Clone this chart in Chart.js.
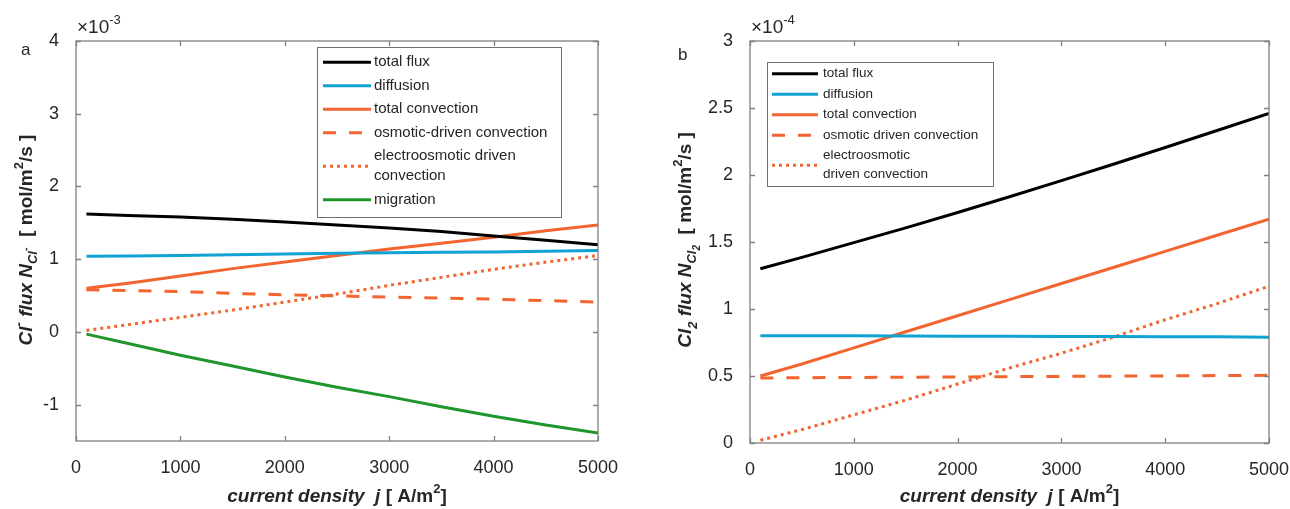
<!DOCTYPE html>
<html>
<head>
<meta charset="utf-8">
<script src="https://cdn.jsdelivr.net/npm/chart.js@4.4.1/dist/chart.umd.min.js"></script>
<style>
  html, body { margin: 0; padding: 0; background: #fff; }
  #wrap { position: relative; width: 1290px; height: 509px; overflow: hidden; }
  canvas { position: absolute; top: 0; }
  #chartA { left: 0; }
  #chartB { left: 640px; }
</style>
</head>
<body>
<div id="wrap">
  <canvas id="chartA" width="640" height="509"></canvas>
  <canvas id="chartB" width="650" height="509"></canvas>
</div>
<script>
// densidad de corriente j [A/m2]
const corriente = [100, 500, 1000, 1500, 2000, 2500, 3000, 3500, 4000, 4500, 5000];

// panel a: flujo de Cl- (x 1e-3 mol/m2/s)
const totalA     = [1.62, 1.60, 1.58, 1.55, 1.51, 1.47, 1.43, 1.38, 1.32, 1.26, 1.20];
const difusionA  = [1.04, 1.045, 1.05, 1.06, 1.07, 1.08, 1.09, 1.095, 1.10, 1.11, 1.12];
const convA      = [0.60, 0.67, 0.77, 0.87, 0.96, 1.05, 1.14, 1.22, 1.30, 1.39, 1.47];
const osmoticaA  = [0.58, 0.57, 0.555, 0.53, 0.51, 0.495, 0.48, 0.465, 0.45, 0.43, 0.41];
const electroA   = [0.02, 0.10, 0.20, 0.30, 0.41, 0.52, 0.64, 0.75, 0.86, 0.96, 1.05];
const migracionA = [-0.03, -0.16, -0.32, -0.47, -0.62, -0.76, -0.89, -1.03, -1.16, -1.28, -1.39];

// panel b: flujo de Cl2 (x 1e-4 mol/m2/s)
const totalB     = [1.30, 1.385, 1.495, 1.605, 1.72, 1.838, 1.958, 2.08, 2.205, 2.332, 2.46];
const difusionB  = [0.80, 0.80, 0.80, 0.798, 0.797, 0.796, 0.795, 0.794, 0.793, 0.792, 0.79];
const convB      = [0.50, 0.59, 0.71, 0.83, 0.95, 1.07, 1.19, 1.31, 1.43, 1.55, 1.67];
const osmoticaB  = [0.485, 0.487, 0.489, 0.491, 0.493, 0.495, 0.497, 0.499, 0.501, 0.503, 0.505];
const electroB   = [0.02, 0.10, 0.21, 0.32, 0.44, 0.56, 0.67, 0.79, 0.92, 1.04, 1.17];

const ticksX  = [0, 1000, 2000, 3000, 4000, 5000];
const ticksYA = [-1, 0, 1, 2, 3, 4];
const ticksYB = [0, 0.5, 1, 1.5, 2, 2.5, 3];

const etiquetasA = [["total flux"], ["diffusion"], ["total convection"], ["osmotic-driven convection"],
  ["electroosmotic driven", "convection"], ["migration"]];
const etiquetasB = [["total flux"], ["diffusion"], ["total convection"], ["osmotic driven convection"],
  ["electroosmotic", "driven convection"]];

const NEGRO = "#000000", AZUL = "#10a2d2", NARANJA = "#f26430", VERDE = "#1f962b";
const FAM = '"Liberation Sans", Arial, Helvetica, sans-serif';
const TXT = "#262626";
const EJE = "#808080";

function serie(label, vals, color, dash) {
  return {
    label,
    data: corriente.map((x, i) => ({ x, y: vals[i] })),
    borderColor: color,
    backgroundColor: color,
    borderWidth: 3,
    borderDash: dash || [],
    borderCapStyle: "butt",
    pointRadius: 0,
    tension: 0,
    fill: false
  };
}

function drawRich(ctx, segs, cx, cy, rot) {
  ctx.save();
  ctx.translate(cx, cy);
  if (rot) ctx.rotate(-Math.PI / 2);
  let w = 0;
  segs.forEach(s => { ctx.font = s.f; s.w = ctx.measureText(s.t).width; w += s.w; });
  let x = -w / 2;
  ctx.textBaseline = "middle";
  ctx.textAlign = "left";
  ctx.fillStyle = TXT;
  segs.forEach(s => { ctx.font = s.f; ctx.fillText(s.t, x, s.dy || 0); x += s.w; });
  ctx.restore();
}

const bi = n => `italic bold ${n}px ${FAM}`;
const b = n => `bold ${n}px ${FAM}`;
const nf = n => `${n}px ${FAM}`;

// caja, marcas internas, leyenda y textos
const decoPlugin = {
  id: "deco",
  afterDraw(chart, args, o) {
    const ctx = chart.ctx;
    const { left, right, top, bottom } = chart.chartArea;
    const xs = chart.scales.x, ys = chart.scales.y;

    ctx.save();
    ctx.strokeStyle = EJE;
    ctx.lineWidth = 1.3;
    ctx.strokeRect(left, top, right - left, bottom - top);
    ctx.beginPath();
    ticksX.forEach(v => {
      const px = Math.round(xs.getPixelForValue(v)) + 0.5;
      ctx.moveTo(px, bottom); ctx.lineTo(px, bottom - 5);
      ctx.moveTo(px, top); ctx.lineTo(px, top + 5);
    });
    o.yTicks.forEach(v => {
      const py = Math.round(ys.getPixelForValue(v)) + 0.5;
      ctx.moveTo(left, py); ctx.lineTo(left + 5, py);
      ctx.moveTo(right, py); ctx.lineTo(right - 5, py);
    });
    ctx.stroke();

    // leyenda
    const L = o.legend;
    ctx.fillStyle = "#fff";
    ctx.fillRect(L.x, L.y, L.w, L.h);
    ctx.strokeStyle = "#6e6e6e";
    ctx.lineWidth = 1;
    ctx.strokeRect(L.x + 0.5, L.y + 0.5, L.w, L.h);
    let y = L.y + L.pad;
    o.labels.forEach((lines, i) => {
      const ds = chart.data.datasets[i];
      const h = lines.length * L.lh + L.gap;
      const cy = y + h / 2;
      ctx.beginPath();
      ctx.strokeStyle = ds.borderColor;
      ctx.lineWidth = 3;
      ctx.setLineDash(ds.borderDash);
      ctx.moveTo(L.x + L.s0, cy);
      ctx.lineTo(L.x + L.s1, cy);
      ctx.stroke();
      ctx.setLineDash([]);
      ctx.fillStyle = TXT;
      ctx.font = nf(L.fs);
      ctx.textBaseline = "middle";
      ctx.textAlign = "left";
      lines.forEach((t, k) => {
        ctx.fillText(t, L.x + L.tx, cy + (k - (lines.length - 1) / 2) * L.lh);
      });
      y += h;
    });

    // exponente
    ctx.fillStyle = TXT;
    ctx.textBaseline = "middle";
    ctx.textAlign = "left";
    ctx.font = nf(19);
    ctx.fillText("×10", left + 1, 28);
    const wx = ctx.measureText("×10").width;
    ctx.font = nf(13);
    ctx.fillText(o.exp, left + 1 + wx, 20);
    // letra del panel
    ctx.font = nf(17);
    ctx.fillText(o.panel[0], o.panel[1], o.panel[2]);
    ctx.restore();

    // titulos de ejes
    drawRich(ctx, [
      { t: "current density  j", f: bi(19) },
      { t: " [ A/m", f: b(19) },
      { t: "2", f: b(13), dy: -8 },
      { t: "]", f: b(19) }
    ], (left + right) / 2, 497, false);
    drawRich(ctx, o.yTitle, o.yTitleX, 240, true);
  }
};

function crearGrafico(id, datasets, cfg) {
  const ctx = document.getElementById(id).getContext("2d");
  return new Chart(ctx, {
    type: "line",
    data: { datasets },
    plugins: [decoPlugin],
    options: {
      responsive: false,
      animation: false,
      devicePixelRatio: 1,
      layout: { padding: cfg.padding },
      scales: {
        x: {
          type: "linear", min: 0, max: 5000,
          grid: { display: false }, border: { display: false },
          afterBuildTicks: s => { s.ticks = ticksX.map(v => ({ value: v })); },
          afterFit: s => { s.height = 40; s.paddingLeft = 0; s.paddingRight = 0; },
          ticks: { color: TXT, font: { family: FAM, size: 18 }, padding: 8, maxRotation: 0, callback: v => String(v) }
        },
        y: {
          type: "linear", min: cfg.yMin, max: cfg.yMax,
          grid: { display: false }, border: { display: false },
          afterBuildTicks: s => { s.ticks = cfg.yTicks.map(v => ({ value: v })); },
          afterFit: s => { s.width = cfg.yWidth; s.paddingTop = 0; s.paddingBottom = 0; },
          ticks: { color: TXT, font: { family: FAM, size: 18 }, padding: 9, callback: v => String(v) }
        }
      },
      plugins: {
        legend: { display: false },
        tooltip: { enabled: false },
        deco: cfg.deco
      }
    }
  });
}

crearGrafico("chartA", [
  serie("total flux", totalA, NEGRO),
  serie("diffusion", difusionA, AZUL),
  serie("total convection", convA, NARANJA),
  serie("osmotic-driven convection", osmoticaA, NARANJA, [13, 13]),
  serie("electroosmotic driven convection", electroA, NARANJA, [3, 4]),
  serie("migration", migracionA, VERDE)
], {
  padding: { left: 0, right: 42, top: 41, bottom: 28 },
  yMin: -1.5, yMax: 4, yTicks: ticksYA, yWidth: 76,
  deco: {
    yTicks: ticksYA,
    labels: etiquetasA,
    legend: { x: 317, y: 47, w: 244, h: 170, pad: 3.5, lh: 20, gap: 3.5, s0: 6, s1: 54, tx: 57, fs: 15 },
    exp: "-3",
    panel: ["a", 21, 50],
    yTitleX: 27,
    yTitle: [
      { t: "Cl", f: bi(19) },
      { t: "-", f: bi(13), dy: -8 },
      { t: " flux N", f: bi(19) },
      { t: "Cl", f: bi(13), dy: 6 },
      { t: "-", f: bi(11), dy: -1 },
      { t: "  [ mol/m", f: b(19) },
      { t: "2", f: b(13), dy: -8 },
      { t: "/s ]", f: b(19) }
    ]
  }
});

crearGrafico("chartB", [
  serie("total flux", totalB, NEGRO),
  serie("diffusion", difusionB, AZUL),
  serie("total convection", convB, NARANJA),
  serie("osmotic driven convection", osmoticaB, NARANJA, [13, 13]),
  serie("electroosmotic driven convection", electroB, NARANJA, [3, 4])
], {
  padding: { left: 0, right: 21, top: 41, bottom: 26 },
  yMin: 0, yMax: 3, yTicks: ticksYB, yWidth: 110,
  deco: {
    yTicks: ticksYB,
    labels: etiquetasB,
    legend: { x: 127, y: 62, w: 226, h: 124, pad: 1.5, lh: 19, gap: 1.5, s0: 5, s1: 51, tx: 56, fs: 13.5 },
    exp: "-4",
    panel: ["b", 38, 55],
    yTitleX: 46,
    yTitle: [
      { t: "Cl", f: bi(19) },
      { t: "2", f: bi(13), dy: 7 },
      { t: " flux N", f: bi(19) },
      { t: "Cl", f: bi(13), dy: 6 },
      { t: "2", f: bi(10), dy: 11 },
      { t: "  [ mol/m", f: b(19) },
      { t: "2", f: b(13), dy: -8 },
      { t: "/s ]", f: b(19) }
    ]
  }
});
</script>
</body>
</html>
